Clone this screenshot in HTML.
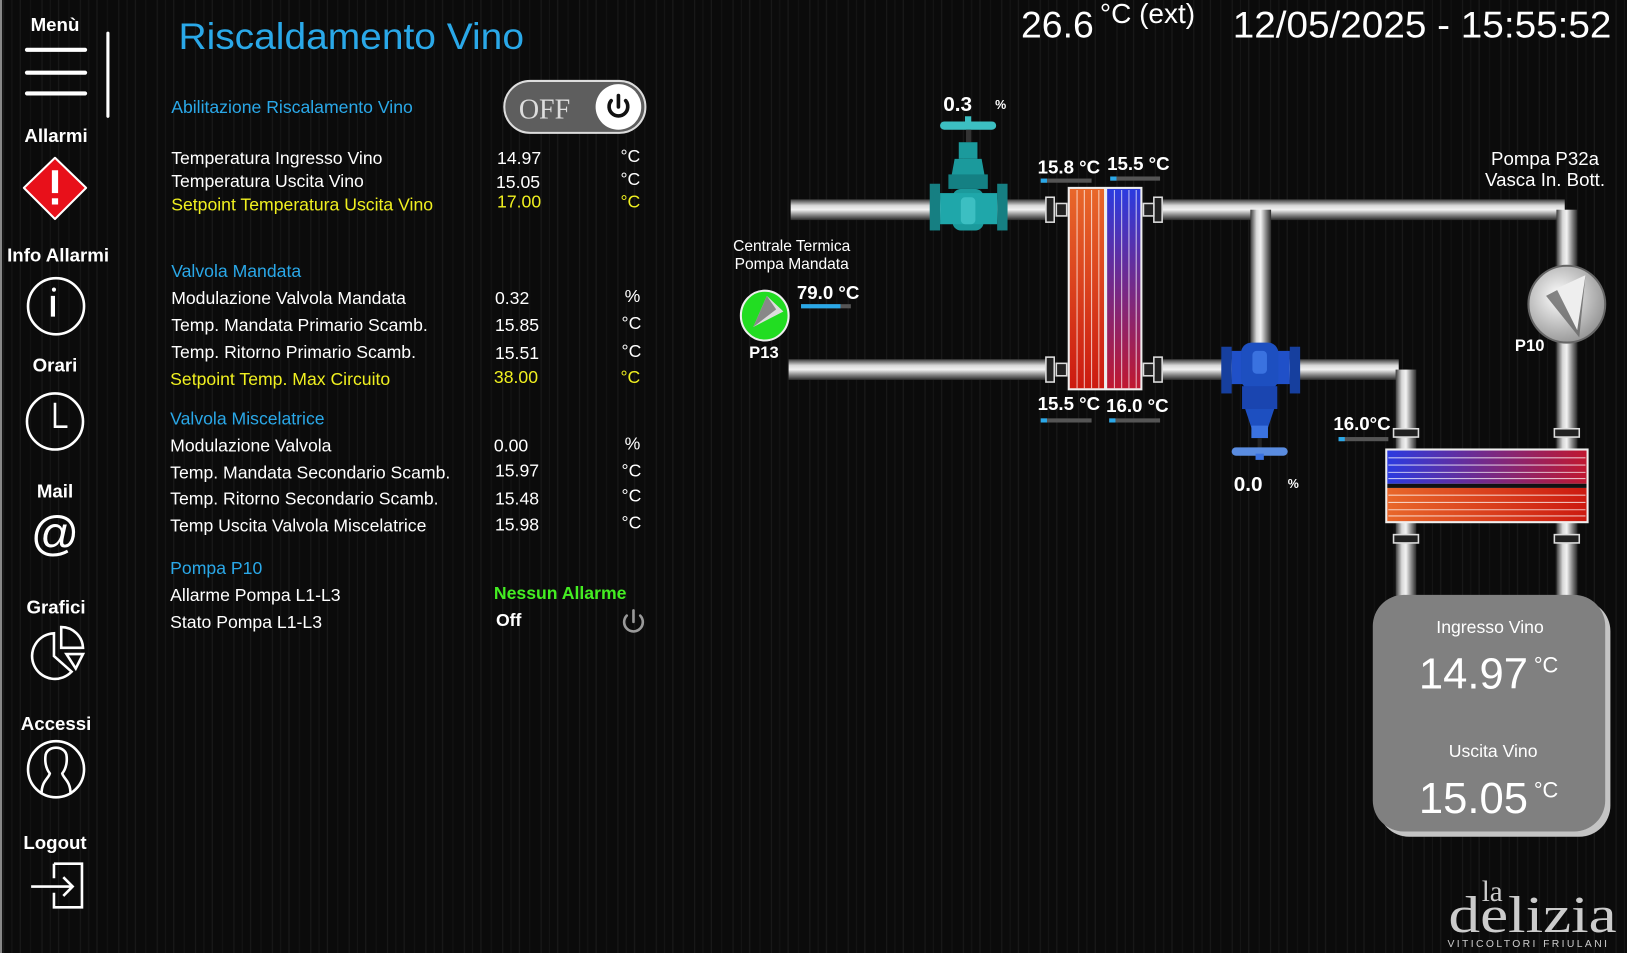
<!DOCTYPE html>
<html><head><meta charset="utf-8"><style>
html,body{margin:0;padding:0;background:#0b0b0b;overflow:hidden}
svg{display:block}
text{font-family:"Liberation Sans",sans-serif}
text.serif{font-family:"Liberation Serif",serif}
</style></head><body>
<svg width="1627" height="953" viewBox="0 0 1568 918" preserveAspectRatio="none" xmlns="http://www.w3.org/2000/svg">
<defs>
<linearGradient id="ph" x1="0" y1="0" x2="0" y2="1"><stop offset="0" stop-color="#3a3a3a"/><stop offset=".3" stop-color="#d8d8d8"/><stop offset=".5" stop-color="#f2f2f2"/><stop offset=".75" stop-color="#8a8a8a"/><stop offset="1" stop-color="#2a2a2a"/></linearGradient>
<linearGradient id="pv" x1="0" y1="0" x2="1" y2="0"><stop offset="0" stop-color="#3a3a3a"/><stop offset=".3" stop-color="#d8d8d8"/><stop offset=".5" stop-color="#f2f2f2"/><stop offset=".75" stop-color="#8a8a8a"/><stop offset="1" stop-color="#2a2a2a"/></linearGradient>
<linearGradient id="hot" x1="0" y1="0" x2="0" y2="1"><stop offset="0" stop-color="#e8672a"/><stop offset="1" stop-color="#cc1a10"/></linearGradient>
<linearGradient id="cold" x1="0" y1="0" x2="0" y2="1"><stop offset="0" stop-color="#2b3be0"/><stop offset="1" stop-color="#c01830"/></linearGradient>
<linearGradient id="hcold" x1="0" y1="0" x2="1" y2="0"><stop offset="0" stop-color="#2b3be0"/><stop offset="1" stop-color="#c01830"/></linearGradient>
<linearGradient id="hhot" x1="0" y1="0" x2="1" y2="0"><stop offset="0" stop-color="#e8672a"/><stop offset="1" stop-color="#cc1a10"/></linearGradient>
<radialGradient id="pump" cx=".4" cy=".4" r=".7"><stop offset="0" stop-color="#ffffff"/><stop offset="1" stop-color="#8a8a8a"/></radialGradient>
<pattern id="streak" width="37" height="918" patternUnits="userSpaceOnUse">
<rect width="37" height="918" fill="#0b0b0b"/>
<rect x="3" width="1" height="918" fill="#1a1a1a"/><rect x="11" width="1" height="918" fill="#151515"/><rect x="19" width="1" height="918" fill="#1c1c1c"/><rect x="29" width="1" height="918" fill="#141414"/>
</pattern>
</defs>
<rect width="1568" height="918" fill="url(#streak)"/>
<rect x="0" y="0" width="2" height="918" fill="#888"/>

<!-- sidebar -->
<g fill="#fff" font-weight="bold" font-size="18" text-anchor="middle">
<text x="53" y="30">Menù</text>
<text x="54" y="137">Allarmi</text>
<text x="56" y="252">Info Allarmi</text>
<text x="53" y="358">Orari</text>
<text x="53" y="479">Mail</text>
<text x="54" y="591">Grafici</text>
<text x="54" y="703">Accessi</text>
<text x="53" y="818">Logout</text>
</g>
<g stroke="#fff" stroke-width="4" stroke-linecap="round"><line x1="26" y1="48" x2="82" y2="48"/><line x1="26" y1="70" x2="82" y2="70"/><line x1="26" y1="90" x2="82" y2="90"/></g>
<line x1="104" y1="32" x2="104" y2="112" stroke="#fff" stroke-width="3" stroke-linecap="round"/>
<polygon points="53,152 83,181 53,211 23,181" fill="#e8101a" stroke="#fff" stroke-width="2" stroke-linejoin="round"/>
<rect x="50" y="164" width="6" height="22" fill="#fff"/><rect x="50" y="191" width="6" height="6" fill="#fff"/>
<g fill="none" stroke="#fff" stroke-width="2.5">
<circle cx="54" cy="295" r="27"/>
<circle cx="53" cy="406" r="27"/><polyline points="53,388 53,411 65,411"/>
<circle cx="54" cy="741" r="27"/>
<path d="M40 765 C40 752 47 750 48 745 C44 740 43 733 44 727 C46 718 62 718 64 727 C65 733 64 740 60 745 C61 750 68 752 68 765"/>
<path d="M52 610 A22 22 0 1 0 69 647 L52 632 Z"/>
<path d="M59 604 L59 624 L80 624 A21 21 0 0 0 59 604 Z"/>
<path d="M64 630 L80 630 L73 644 Z"/>
<polyline points="52,832 79,832 79,874 52,874 52,860"/><line x1="30" y1="854" x2="70" y2="854"/><polyline points="61,845 70,854 61,863"/>
<line x1="52" y1="832" x2="52" y2="846"/>
</g>
<rect x="49" y="285" width="4" height="20" fill="#fff"/><circle cx="52" cy="279" r="2" fill="#fff"/>
<text x="53" y="530" fill="#fff" font-size="46" text-anchor="middle" font-weight="300">@</text>

<!-- title -->
<text x="172" y="47" fill="#2aa8e8" font-size="36" textLength="333" lengthAdjust="spacingAndGlyphs">Riscaldamento Vino</text>
<text x="984" y="36" fill="#fff" font-size="36">26.6</text>
<text x="1060" y="22" fill="#fff" font-size="27">°C (ext)</text>
<text x="1188" y="36" fill="#fff" font-size="36" textLength="365" lengthAdjust="spacingAndGlyphs">12/05/2025 - 15:55:52</text>

<!-- data panel -->
<g font-size="17" fill="#fff">
<text x="165" y="109" fill="#2aa8e8">Abilitazione Riscalamento Vino</text>
<text x="165" y="158">Temperatura Ingresso Vino</text><text x="479" y="158">14.97</text><text x="598" y="156">°C</text>
<text x="165" y="180">Temperatura Uscita Vino</text><text x="478" y="181">15.05</text><text x="598" y="178">°C</text>
<text x="165" y="203" fill="#f0f020">Setpoint Temperatura Uscita Vino</text><text x="479" y="200" fill="#f0f020">17.00</text><text x="598" y="200" fill="#f0f020">°C</text>
<text x="165" y="267" fill="#2aa8e8">Valvola Mandata</text>
<text x="165" y="293">Modulazione Valvola Mandata</text><text x="477" y="293">0.32</text><text x="602" y="291">%</text>
<text x="165" y="319">Temp. Mandata Primario Scamb.</text><text x="477" y="319">15.85</text><text x="599" y="317">°C</text>
<text x="165" y="345">Temp. Ritorno Primario Scamb.</text><text x="477" y="346">15.51</text><text x="599" y="344">°C</text>
<text x="164" y="371" fill="#f0f020">Setpoint  Temp. Max Circuito</text><text x="476" y="369" fill="#f0f020">38.00</text><text x="598" y="369" fill="#f0f020">°C</text>
<text x="164" y="409" fill="#2aa8e8">Valvola Miscelatrice</text>
<text x="164" y="435">Modulazione Valvola</text><text x="476" y="435">0.00</text><text x="602" y="433">%</text>
<text x="164" y="461">Temp. Mandata Secondario Scamb.</text><text x="477" y="459">15.97</text><text x="599" y="459">°C</text>
<text x="164" y="486">Temp. Ritorno Secondario Scamb.</text><text x="477" y="486">15.48</text><text x="599" y="483">°C</text>
<text x="164" y="512">Temp Uscita Valvola Miscelatrice</text><text x="477" y="511">15.98</text><text x="599" y="509">°C</text>
<text x="164" y="553" fill="#2aa8e8">Pompa P10</text>
<text x="164" y="579">Allarme Pompa L1-L3</text><text x="476" y="577" fill="#44ee22" font-weight="bold">Nessun Allarme</text>
<text x="164" y="605">Stato Pompa L1-L3</text><text x="478" y="603" font-weight="bold">Off</text>
</g>
<g fill="none" stroke="#999" stroke-width="2.5" stroke-linecap="round"><path d="M604 593 A9 9 0 1 0 617 593"/><line x1="610.5" y1="588" x2="610.5" y2="599"/></g>
<!-- toggle -->
<rect x="486" y="78" width="136" height="50" rx="25" fill="#5e5e5e" stroke="#ddd" stroke-width="2"/>
<text class="serif" x="500" y="114" fill="#ddd" font-size="27">OFF</text>
<circle cx="596" cy="103" r="22" fill="#fff"/>
<g fill="none" stroke="#111" stroke-width="3.5" stroke-linecap="round"><path d="M589 97 A9 9 0 1 0 603 97"/><line x1="596" y1="92" x2="596" y2="103"/></g>

<!-- pipes -->
<rect x="762" y="192" width="250" height="20" fill="url(#ph)"/>
<rect x="760" y="346" width="250" height="20" fill="url(#ph)"/>
<rect x="1118" y="192" width="390" height="20" fill="url(#ph)"/>
<rect x="1118" y="346" width="230" height="20" fill="url(#ph)"/>
<rect x="1205" y="202" width="20" height="140" fill="url(#pv)"/>
<rect x="1500" y="202" width="20" height="375" fill="url(#pv)"/>
<rect x="1345" y="356" width="20" height="221" fill="url(#pv)"/>
<!-- flanges -->
<g fill="#222" stroke="#ddd" stroke-width="1.5">
<rect x="1008" y="190" width="8" height="24"/><rect x="1018" y="196" width="10" height="12"/>
<rect x="1112" y="190" width="8" height="24"/><rect x="1102" y="196" width="10" height="12"/>
<rect x="1008" y="344" width="8" height="24"/><rect x="1018" y="350" width="10" height="12"/>
<rect x="1112" y="344" width="8" height="24"/><rect x="1102" y="350" width="10" height="12"/>
<rect x="1343" y="413" width="24" height="8"/><rect x="1498" y="413" width="24" height="8"/>
<rect x="1343" y="515" width="24" height="8"/><rect x="1498" y="515" width="24" height="8"/>
</g>
<!-- HX1 -->
<rect x="1029" y="180" width="72" height="196" fill="#eee"/>
<rect x="1031" y="182" width="33" height="192" fill="url(#hot)"/>
<rect x="1067" y="182" width="32" height="192" fill="url(#cold)"/>
<g stroke="#fff" stroke-opacity=".7" stroke-width="1"><line x1="1038" y1="183" x2="1038" y2="374"/><line x1="1045" y1="183" x2="1045" y2="374"/><line x1="1052" y1="183" x2="1052" y2="374"/><line x1="1059" y1="183" x2="1059" y2="374"/><line x1="1074" y1="183" x2="1074" y2="374"/><line x1="1081" y1="183" x2="1081" y2="374"/><line x1="1088" y1="183" x2="1088" y2="374"/><line x1="1095" y1="183" x2="1095" y2="374"/></g>
<!-- HX2 -->
<rect x="1335" y="432" width="196" height="72" fill="#eee"/>
<rect x="1337" y="434" width="192" height="32" fill="url(#hcold)"/>
<rect x="1337" y="470" width="192" height="32" fill="url(#hhot)"/>
<g stroke="#fff" stroke-opacity=".7" stroke-width="1"><line x1="1338" y1="441" x2="1528" y2="441"/><line x1="1338" y1="448" x2="1528" y2="448"/><line x1="1338" y1="455" x2="1528" y2="455"/><line x1="1338" y1="461" x2="1528" y2="461"/><line x1="1338" y1="477" x2="1528" y2="477"/><line x1="1338" y1="484" x2="1528" y2="484"/><line x1="1338" y1="491" x2="1528" y2="491"/><line x1="1338" y1="497" x2="1528" y2="497"/></g>
<rect x="1337" y="466" width="192" height="4" fill="#111"/>

<!-- valve 1 teal -->
<g fill="#1b9a9c">
<rect x="906" y="117" width="54" height="8" rx="4" fill="#3cbfc2"/>
<rect x="930" y="112" width="6" height="8" fill="#3cbfc2"/>
<rect x="931" y="125" width="5" height="12" fill="#333"/>
<rect x="924" y="137" width="18" height="16"/>
<path d="M920 153 L946 153 L950 175 L916 175Z"/>
<rect x="914" y="168" width="38" height="14" fill="#148083"/>
<rect x="918" y="182" width="30" height="40" rx="8"/>
<rect x="896" y="177" width="10" height="45" fill="#167f82"/>
<rect x="961" y="177" width="10" height="45" fill="#167f82"/>
<rect x="906" y="186" width="55" height="30" fill="#1fa7aa"/>
<rect x="926" y="190" width="14" height="26" rx="4" fill="#3cbfc2"/>
</g>
<!-- valve 2 blue -->
<g fill="#1d4fc0">
<rect x="1177" y="334" width="10" height="45" fill="#163f9e"/>
<rect x="1243" y="334" width="10" height="45" fill="#163f9e"/>
<rect x="1187" y="338" width="56" height="32" fill="#2050c8"/>
<rect x="1196" y="330" width="36" height="45" rx="10"/>
<rect x="1207" y="338" width="14" height="22" rx="4" fill="#3a72e0"/>
<rect x="1197" y="372" width="34" height="22" fill="#1a45b0"/>
<path d="M1200 394 L1228 394 L1222 412 L1206 412Z"/>
<rect x="1206" y="410" width="16" height="12" fill="#3a72e0"/>
<rect x="1212" y="422" width="4" height="10" fill="#222"/>
<rect x="1187" y="431" width="54" height="8" rx="4" fill="#5a8ce0"/>
<rect x="1210" y="437" width="8" height="6" fill="#3a72e0"/>
</g>
<!-- pumps -->
<circle cx="1510" cy="293" r="37" fill="url(#pump)" stroke="#666" stroke-width="2"/>
<polygon points="1528,265 1490,285 1522,325" fill="#666" opacity=".8"/>
<polygon points="1528,265 1500,278 1520,318" fill="#eee"/>
<ellipse cx="737" cy="304" rx="23" ry="24" fill="#22dd22" stroke="#eee" stroke-width="2"/>
<polygon points="739,285 755,300 726,315" fill="#ddd"/>
<polygon points="739,285 748,298 726,315" fill="#888"/>

<!-- labels diagram -->
<g fill="#fff" font-size="18" font-weight="bold">
<text x="909" y="107" font-size="20">0.3</text><text x="959" y="105" font-size="12">%</text>
<text x="1189" y="473" font-size="20">0.0</text><text x="1241" y="470" font-size="12">%</text>
<text x="1000" y="167">15.8 °C</text><text x="1067" y="164">15.5 °C</text>
<text x="1000" y="395">15.5 °C</text><text x="1066" y="397">16.0 °C</text>
<text x="1285" y="414">16.0°C</text>
<text x="768" y="288">79.0 °C</text>
<text x="722" y="345" font-size="16">P13</text>
<text x="1460" y="338" font-size="16">P10</text>
</g>
<g>
<rect x="1003" y="172" width="49" height="4" fill="#555"/><rect x="1003" y="172" width="6" height="4" fill="#2aa8e8"/>
<rect x="1070" y="170" width="48" height="4" fill="#555"/><rect x="1070" y="170" width="6" height="4" fill="#2aa8e8"/>
<rect x="1003" y="403" width="49" height="4" fill="#555"/><rect x="1003" y="403" width="6" height="4" fill="#2aa8e8"/>
<rect x="1069" y="403" width="49" height="4" fill="#555"/><rect x="1069" y="403" width="6" height="4" fill="#2aa8e8"/>
<rect x="1290" y="421" width="48" height="4" fill="#555"/><rect x="1290" y="421" width="6" height="4" fill="#2aa8e8"/>
<rect x="772" y="293" width="48" height="4" fill="#555"/><rect x="772" y="293" width="38" height="4" fill="#2aa8e8"/>
</g>
<g fill="#fff" font-size="15" text-anchor="middle">
<text x="763" y="242">Centrale Termica</text><text x="763" y="259">Pompa Mandata</text>
</g>
<g fill="#fff" font-size="18" text-anchor="middle">
<text x="1489" y="159">Pompa P32a</text><text x="1489" y="179">Vasca In. Bott.</text>
</g>

<!-- wine box -->
<rect x="1328" y="578" width="224" height="228" rx="30" fill="#c4c4c4"/>
<rect x="1323" y="573" width="224" height="228" rx="30" fill="#808080"/>
<g fill="#fff" text-anchor="middle">
<text x="1436" y="610" font-size="17">Ingresso Vino</text>
<text x="1420" y="663" font-size="42">14.97</text><text x="1490" y="648" font-size="21">°C</text>
<text x="1439" y="729" font-size="17">Uscita Vino</text>
<text x="1420" y="783" font-size="42">15.05</text><text x="1490" y="768" font-size="21">°C</text>
</g>
<!-- logo -->
<g fill="#ccc">
<text class="serif" x="1428" y="868" font-size="28">la</text>
<text class="serif" x="1396" y="898" font-size="50" textLength="162" lengthAdjust="spacingAndGlyphs">delizia</text>
<text x="1395" y="912" font-size="10" letter-spacing="2.3">VITICOLTORI FRIULANI</text>
</g>
</svg>
</body></html>
